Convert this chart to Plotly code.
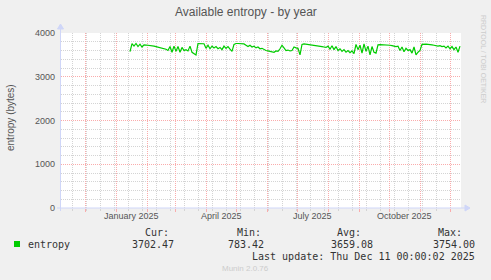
import plotly.graph_objects as go
import pandas as pd

# ---- data ----
series_name = "entropy"
start_date = "2025-01-15"
step_days = 2
entropy_values = [
    3576, 3755, 3700, 3760, 3690, 3745, 3680, 3730, 3725, 3720,
    3725, 3715, 3700, 3690, 3680, 3670, 3660, 3650, 3630, 3600,
    3690, 3560, 3700, 3580, 3690, 3560, 3670, 3600, 3620, 3590,
    3700, 3560, 3530, 3500, 3760, 3755, 3750, 3755, 3650, 3720,
    3640, 3700, 3660, 3690, 3640, 3670, 3620, 3700, 3650, 3690,
    3630, 3580, 3740, 3760, 3760, 3755, 3760, 3750, 3720, 3690,
    3720, 3680, 3700, 3660, 3680, 3640, 3650, 3620, 3600, 3590,
    3580, 3570, 3560, 3590, 3580, 3640, 3720, 3660, 3600, 3610,
    3590, 3600, 3680, 3660, 3650, 3500, 3740, 3750, 3745, 3740,
    3735, 3730, 3720, 3710, 3700, 3695, 3690, 3680, 3670, 3700,
    3630, 3710, 3620, 3690, 3600, 3640, 3580, 3620, 3560, 3600,
    3550, 3590, 3530, 3740, 3620, 3720, 3540, 3750, 3580, 3700,
    3500, 3690, 3560, 3540, 3730, 3735, 3735, 3730, 3730, 3725,
    3720, 3710, 3700, 3690, 3700, 3600, 3680, 3570, 3650, 3600,
    3620, 3540, 3680, 3500, 3560, 3600, 3740, 3750, 3745, 3740,
    3740, 3730, 3720, 3710, 3700, 3710, 3690, 3700, 3660, 3700,
    3640, 3690, 3620, 3680, 3560, 3700,
]
x_range = ["2024-11-07", "2025-12-12"]
y_range = [0, 4000]
tick_label_dates = ["2025-01-16", "2025-04-16", "2025-07-16", "2025-10-16"]
tick_labels = ["January 2025", "April 2025", "July 2025", "October 2025"]
stat_headers = ["Cur:", "Min:", "Avg:", "Max:"]
stat_values = ["3702.47", "783.42", "3659.08", "3754.00"]
title_text = "Available entropy - by year"
y_title = "entropy (bytes)"
last_update = "Last update: Thu Dec 11 00:00:02 2025"
footer = "Munin 2.0.76"
side_text = "RRDTOOL / TOBI OETIKER"

dates = pd.date_range(start_date, periods=len(entropy_values), freq=f"{step_days}D")

# ---- layout geometry (pixels) ----
W, H = 491, 280
L, R, T, B = 61, 461, 33, 208
PW, PH = R - L, B - T


def px(x):
    return (x - L) / PW


def py(y):
    return (B - y) / PH


FONT = "Liberation Sans, Arial, sans-serif"
MONO = "DejaVu Sans Mono, monospace"
AXIS_C = "#CFD6F8"
MGRID = "rgb(250,172,172)"
GRID = "rgb(212,212,212)"

fig = go.Figure()
fig.add_trace(go.Scatter(x=dates, y=entropy_values, mode="lines",
                         line=dict(color="#00CC00", width=1.2), name=series_name,
                         showlegend=False, hoverinfo="skip"))

fig.update_layout(
    width=W, height=H,
    margin=dict(l=L, r=W - R, t=T, b=H - B, pad=0),
    paper_bgcolor="#F0F0F0", plot_bgcolor="#FFFFFF",
    showlegend=False,
    font=dict(family=FONT, size=9, color="#555555"),
)
fig.update_xaxes(
    type="date", range=x_range, showline=False, zeroline=False,
    tick0="2024-12-01", dtick="M1", showticklabels=False,
    showgrid=True, gridcolor=MGRID, griddash="1px,1px", gridwidth=1,
    ticks="outside", ticklen=3, tickcolor=MGRID,
    minor=dict(tick0="2024-11-18", dtick=14 * 86400000, showgrid=True,
               gridcolor=GRID, griddash="1px,1px", gridwidth=1,
               ticks="outside", ticklen=2, tickcolor=GRID),
    fixedrange=True,
)
fig.update_yaxes(
    range=y_range, dtick=1000, showline=False, zeroline=False,
    showgrid=True, gridcolor=MGRID, griddash="1px,1px", gridwidth=1,
    ticks="", tickfont=dict(size=9, color="#555555"), ticklabelstandoff=5,
    minor=dict(dtick=200, showgrid=True, gridcolor=GRID, griddash="1px,1px", gridwidth=1),
    fixedrange=True,
)

shapes = []
# axes with arrows
shapes.append(dict(type="line", xref="paper", yref="paper", x0=px(57), x1=px(466),
                   y0=py(208), y1=py(208), line=dict(color=AXIS_C, width=1)))
shapes.append(dict(type="path", xref="paper", yref="paper",
                   path=f"M {px(465)} {py(205)} L {px(470)} {py(208)} L {px(465)} {py(211)} Z",
                   fillcolor=AXIS_C, line=dict(color=AXIS_C, width=1)))
shapes.append(dict(type="line", xref="paper", yref="paper", x0=px(60.5), x1=px(60.5),
                   y0=py(211), y1=py(29), line=dict(color=AXIS_C, width=1)))
shapes.append(dict(type="path", xref="paper", yref="paper",
                   path=f"M {px(57.5)} {py(29)} L {px(60.5)} {py(24)} L {px(63.5)} {py(29)} Z",
                   fillcolor=AXIS_C, line=dict(color=AXIS_C, width=1)))
# legend swatch
shapes.append(dict(type="rect", xref="paper", yref="paper", x0=px(14), x1=px(20),
                   y0=py(241), y1=py(247), fillcolor="#00CC00", line=dict(width=0)))
fig.update_layout(shapes=shapes)

ann = []
ann.append(dict(text=title_text, x=px(245.5), y=py(12), xref="paper", yref="paper",
                showarrow=False, font=dict(family=FONT, size=12, color="#555555"),
                xanchor="center", yanchor="middle"))
ann.append(dict(text=y_title, x=px(10), y=py(118), xref="paper", yref="paper",
                showarrow=False, textangle=-90, font=dict(family=FONT, size=10, color="#555555"),
                xanchor="center", yanchor="middle"))
for d, t in zip(tick_label_dates, tick_labels):
    ann.append(dict(text=t, x=d, y=py(215.5), xref="x", yref="paper", showarrow=False,
                    font=dict(family=FONT, size=9, color="#555555"),
                    xanchor="center", yanchor="middle"))
ann.append(dict(text=side_text, x=px(484), y=py(59), xref="paper", yref="paper",
                showarrow=False, textangle=90, font=dict(family=FONT, size=7, color="#CCCCCC"),
                xanchor="center", yanchor="middle"))
# legend text
ann.append(dict(text=series_name, x=px(26), y=py(244.3), xref="paper", yref="paper",
                showarrow=False, font=dict(family=MONO, size=10, color="#333333"),
                xanchor="left", yanchor="middle"))
hdr_right = [171, 263, 363, 464]
val_right = [176, 266, 375, 477]
for h, v, hr, vr in zip(stat_headers, stat_values, hdr_right, val_right):
    ann.append(dict(text=h, x=px(hr), y=py(232.7), xref="paper", yref="paper",
                    showarrow=False, font=dict(family=MONO, size=10, color="#333333"),
                    xanchor="right", yanchor="middle"))
    ann.append(dict(text=v, x=px(vr), y=py(244.3), xref="paper", yref="paper",
                    showarrow=False, font=dict(family=MONO, size=10, color="#333333"),
                    xanchor="right", yanchor="middle"))
ann.append(dict(text=last_update, x=px(477), y=py(256.7), xref="paper", yref="paper",
                showarrow=False, font=dict(family=MONO, size=10, color="#333333"),
                xanchor="right", yanchor="middle"))
ann.append(dict(text=footer, x=px(245), y=py(268), xref="paper", yref="paper",
                showarrow=False, font=dict(family=FONT, size=8, color="#CCCCCC"),
                xanchor="center", yanchor="middle"))
fig.update_layout(annotations=ann)

fig.write_html("out.html", config=dict(displayModeBar=False, staticPlot=True))
